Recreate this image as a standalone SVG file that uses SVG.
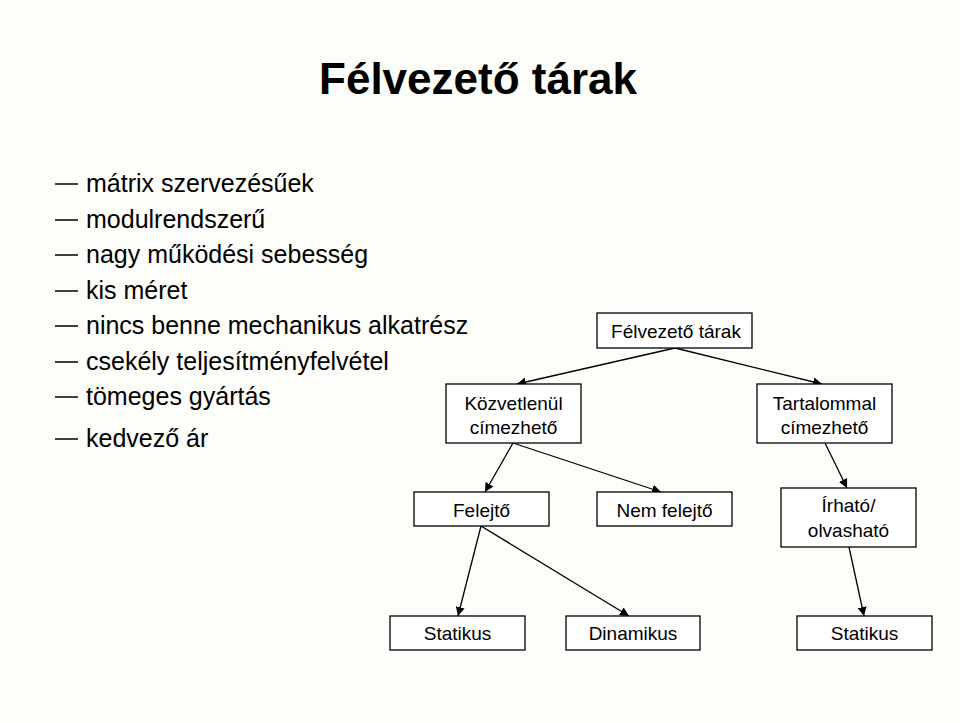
<svg xmlns="http://www.w3.org/2000/svg" width="960" height="723" viewBox="0 0 960 723">
<defs>
<marker id="ah" viewBox="0 0 10 10" refX="10" refY="5" markerWidth="9" markerHeight="9" orient="auto" markerUnits="userSpaceOnUse"><path d="M0,0 L10,5 L0,10 z" fill="#000"/></marker>
<style>
text{font-family:"Liberation Sans",Arial,sans-serif;fill:#000}
.t{font-size:44px;font-weight:bold}
.b{font-size:25px}
.n{font-size:19px}
rect{fill:#fff;stroke:#000;stroke-width:1.3}
.c line{stroke:#000;stroke-width:1.3;marker-end:url(#ah)}
.d{stroke:#000;stroke-width:1.5}
</style>
</defs>
<rect x="0" y="0" width="960" height="723" style="fill:#fdfdf9;stroke:none"/>
<text class="t" x="478" y="94" text-anchor="middle">Félvezető tárak</text>
<g id="bullets">
<g class="d"><line x1="55" y1="184" x2="78" y2="184"/><line x1="55" y1="220" x2="78" y2="220"/><line x1="55" y1="255" x2="78" y2="255"/><line x1="55" y1="291" x2="78" y2="291"/><line x1="55" y1="326" x2="78" y2="326"/><line x1="55" y1="362" x2="78" y2="362"/><line x1="55" y1="397" x2="78" y2="397"/><line x1="55" y1="439" x2="78" y2="439"/></g>
<text class="b" x="86" y="192">mátrix szervezésűek</text>
<text class="b" x="86" y="228">modulrendszerű</text>
<text class="b" x="86" y="263">nagy működési sebesség</text>
<text class="b" x="86" y="299">kis méret</text>
<text class="b" x="86" y="334">nincs benne mechanikus alkatrész</text>
<text class="b" x="86" y="370">csekély teljesítményfelvétel</text>
<text class="b" x="86" y="405">tömeges gyártás</text>
<text class="b" x="86" y="447">kedvező ár</text>
</g>
<g class="c" id="connectors">
<line x1="675" y1="348" x2="517" y2="384"/>
<line x1="675" y1="348" x2="822" y2="384"/>
<line x1="513" y1="443" x2="485" y2="492"/>
<line x1="513" y1="443" x2="661" y2="492"/>
<line x1="825" y1="443" x2="847" y2="488"/>
<line x1="481" y1="526" x2="458" y2="616"/>
<line x1="481" y1="526" x2="629" y2="616"/>
<line x1="849" y1="547" x2="864" y2="616"/>
</g>
<g id="n1"><rect x="597" y="313" width="155" height="35"/><text class="n" x="676" y="338" text-anchor="middle">Félvezető tárak</text></g>
<g id="n2"><rect x="446" y="384" width="135" height="59"/><text class="n" x="513.5" y="410" text-anchor="middle">Közvetlenül</text><text class="n" x="513.5" y="434" text-anchor="middle">címezhető</text></g>
<g id="n3"><rect x="757" y="384" width="135" height="59"/><text class="n" x="824.5" y="410" text-anchor="middle">Tartalommal</text><text class="n" x="824.5" y="434" text-anchor="middle">címezhető</text></g>
<g id="n4"><rect x="414" y="492" width="135" height="34"/><text class="n" x="481.5" y="517" text-anchor="middle">Felejtő</text></g>
<g id="n5"><rect x="597" y="492" width="135" height="34"/><text class="n" x="664.5" y="517" text-anchor="middle">Nem felejtő</text></g>
<g id="n6"><rect x="781" y="488" width="135" height="59"/><text class="n" x="848.5" y="512" text-anchor="middle">Írható/</text><text class="n" x="848.5" y="537" text-anchor="middle">olvasható</text></g>
<g id="n7"><rect x="390" y="616" width="135" height="34"/><text class="n" x="457.5" y="640" text-anchor="middle">Statikus</text></g>
<g id="n8"><rect x="566" y="616" width="134" height="34"/><text class="n" x="633" y="640" text-anchor="middle">Dinamikus</text></g>
<g id="n9"><rect x="797" y="616" width="135" height="34"/><text class="n" x="864.5" y="640" text-anchor="middle">Statikus</text></g>
</svg>
